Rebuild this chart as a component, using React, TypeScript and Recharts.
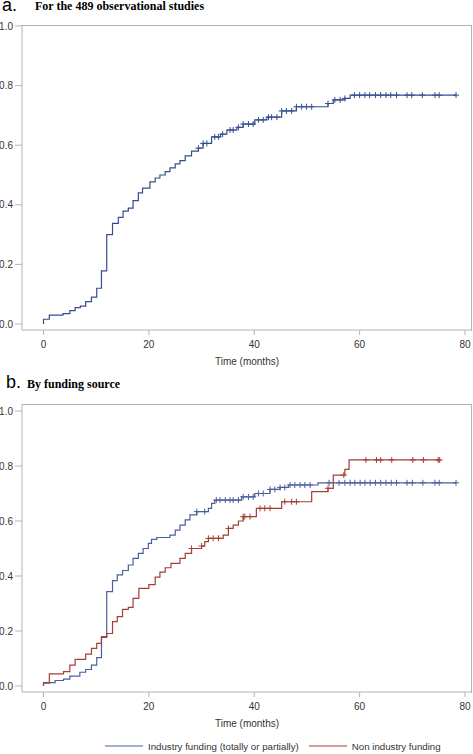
import React from "react";
import { ComposedChart, Line, Scatter, XAxis, YAxis } from "recharts";

// panel a: all 489 observational studies (step times in months, cumulative proportion)
const allTimes = [0, 1.1, 3.7, 5.0, 6.0, 7.0, 8.0, 9.1, 10.1, 11.0, 12.0, 13.1, 14.2, 15.1, 16.1, 17.0, 18.0, 18.8, 20.2, 21.2, 22.1, 23.1, 24.0, 25.0, 25.9, 26.9, 28.1, 29.4, 30.3, 31.9, 33.6, 34.8, 36.7, 37.9, 40.1, 42.4, 45.2, 48.0, 54.0, 55.0, 57.2, 58.2, 78.3];
const allValues = [0.016, 0.03, 0.035, 0.045, 0.055, 0.06, 0.075, 0.09, 0.12, 0.178, 0.3, 0.338, 0.358, 0.379, 0.389, 0.414, 0.44, 0.456, 0.477, 0.49, 0.5, 0.511, 0.524, 0.537, 0.548, 0.564, 0.58, 0.59, 0.606, 0.628, 0.637, 0.651, 0.66, 0.671, 0.685, 0.694, 0.715, 0.729, 0.74, 0.752, 0.757, 0.768, 0.768];
const allCensored = [29.4, 30.3, 31.0, 32.5, 33.2, 34.0, 35.4, 36.0, 37.0, 37.9, 38.9, 39.8, 40.8, 41.7, 42.7, 43.3, 44.3, 45.2, 46.1, 47.1, 48.0, 49.0, 49.9, 50.9, 54.0, 55.3, 56.3, 57.2, 59.0, 60.0, 61.0, 61.9, 63.0, 64.0, 65.0, 65.9, 67.0, 69.0, 69.9, 71.9, 74.3, 75.1, 78.3];

// panel b: industry funding (totally or partially)
const indTimes = [0, 2.2, 3.8, 5.0, 6.9, 8.0, 9.1, 10.1, 11.0, 12.0, 13.1, 14.0, 15.0, 16.1, 17.0, 18.0, 18.9, 19.9, 20.5, 21.5, 24.0, 25.0, 25.9, 26.9, 27.8, 29.1, 31.3, 31.9, 32.5, 37.6, 40.1, 43.0, 44.9, 46.5, 52.1, 78.3];
const indValues = [0.012, 0.02, 0.025, 0.036, 0.05, 0.06, 0.076, 0.103, 0.18, 0.343, 0.383, 0.404, 0.42, 0.44, 0.464, 0.482, 0.5, 0.519, 0.533, 0.54, 0.549, 0.567, 0.585, 0.604, 0.622, 0.634, 0.646, 0.664, 0.676, 0.688, 0.7, 0.715, 0.722, 0.731, 0.739, 0.739];
const indCensored = [29.1, 30.6, 32.8, 33.5, 34.5, 35.4, 36.0, 37.0, 37.9, 38.9, 39.8, 40.8, 41.7, 43.0, 43.9, 44.9, 45.8, 46.8, 47.7, 48.7, 49.6, 50.6, 54.2, 56.1, 57.2, 58.2, 59.1, 60.1, 61.0, 62.0, 63.0, 64.0, 65.0, 66.0, 67.0, 69.0, 70.0, 72.0, 74.3, 75.1, 78.3];

// panel b: non industry funding
const nonTimes = [0, 1.1, 3.8, 5.0, 6.0, 8.0, 9.1, 10.1, 11.0, 12.0, 13.1, 14.0, 15.0, 16.1, 17.0, 18.1, 20.0, 21.2, 22.1, 23.1, 24.2, 25.9, 26.9, 28.1, 30.0, 30.6, 31.3, 34.1, 35.1, 36.0, 37.0, 37.9, 40.4, 45.2, 50.9, 54.0, 55.0, 57.2, 58.0, 75.2];
const nonValues = [0.01, 0.044, 0.052, 0.076, 0.097, 0.116, 0.137, 0.155, 0.177, 0.191, 0.234, 0.252, 0.279, 0.286, 0.319, 0.355, 0.369, 0.396, 0.414, 0.43, 0.446, 0.464, 0.482, 0.5, 0.509, 0.525, 0.537, 0.549, 0.573, 0.585, 0.6, 0.616, 0.646, 0.67, 0.707, 0.719, 0.767, 0.788, 0.822, 0.822];
const nonCensored = [28.1, 30.0, 31.3, 32.2, 33.2, 35.1, 37.9, 38.2, 39.2, 41.1, 42.0, 43.0, 45.8, 47.1, 48.0, 54.0, 57.0, 61.2, 63.2, 64.0, 66.1, 70.1, 72.1, 74.9, 75.2];

const xTicks = [0, 20, 40, 60, 80];
const yTicks = [0, 0.2, 0.4, 0.6, 0.8, 1.0];

const AXIS = "#b4b4b4";
const TOP_BLUE = "#344e8e";
const BLUE = "#4a5f9d";
const RED = "#a33f35";

const steps = (times: number[], values: number[]) =>
  [{ t: 0, v: 0 }, ...times.map((t, i) => ({ t, v: values[i] }))];

const valueAt = (t: number, times: number[], values: number[]) => {
  let v = 0;
  times.forEach((s, i) => {
    if (s <= t) v = values[i];
  });
  return v;
};

const marks = (cens: number[], times: number[], values: number[]) =>
  cens.map((t) => ({ t, v: valueAt(t, times, values) }));

const plus = (color: string) => (props: any) => {
  const { cx, cy } = props;
  if (cx == null || cy == null) return <g />;
  return (
    <path
      d={`M${cx - 3},${cy}H${cx + 3}M${cx},${cy - 3}V${cy + 3}`}
      stroke={color}
      strokeWidth={1}
      fill="none"
    />
  );
};

type Series = { name: string; color: string; times: number[]; values: number[]; censored: number[] };

const panelA: Series[] = [
  { name: "All studies", color: TOP_BLUE, times: allTimes, values: allValues, censored: allCensored },
];
const panelB: Series[] = [
  { name: "Industry funding (totally or partially)", color: BLUE, times: indTimes, values: indValues, censored: indCensored },
  { name: "Non industry funding", color: RED, times: nonTimes, values: nonValues, censored: nonCensored },
];

function KMChart({ series, height, top, padTop }: { series: Series[]; height: number; top: number; padTop: number }) {
  const tick = { fontSize: 10, fill: "#333" };
  const plotH = height - top - 42;
  return (
    <div style={{ position: "relative", width: 473, height }}>
      <ComposedChart
        width={473}
        height={height}
        margin={{ top, right: 1, left: 0, bottom: 0 }}
        style={{ fontFamily: "'Liberation Sans', Arial, sans-serif" }}
      >
        <XAxis
          dataKey="t"
          type="number"
          domain={[0, 80]}
          ticks={xTicks}
          padding={{ left: 21.5, right: 7 }}
          height={42}
          tickSize={5}
          tickMargin={6}
          stroke={AXIS}
          tick={tick}
          label={{ value: "Time (months)", position: "insideBottom", offset: 7, fontSize: 10, fill: "#333" }}
        />
        <YAxis
          dataKey="v"
          type="number"
          domain={[0, 1]}
          ticks={yTicks}
          padding={{ top: padTop, bottom: 6 }}
          width={22}
          tickSize={7}
          tickMargin={2}
          stroke={AXIS}
          tick={tick}
          tickFormatter={(v: number) => v.toFixed(1)}
        />
        {series.map((s) => (
          <Line
            key={s.name}
            data={steps(s.times, s.values)}
            dataKey="v"
            type="stepAfter"
            stroke={s.color}
            strokeWidth={1.2}
            dot={false}
            isAnimationActive={false}
          />
        ))}
        {series.map((s) => (
          <Scatter
            key={s.name + "-c"}
            data={marks(s.censored, s.times, s.values)}
            dataKey="v"
            shape={plus(s.color)}
            isAnimationActive={false}
          />
        ))}
      </ComposedChart>
      {/* plot frame: top and right edges */}
      <div
        style={{
          position: "absolute",
          left: 22,
          top,
          width: 449,
          height: plotH,
          borderTop: `1px solid ${AXIS}`,
          borderRight: `1px solid ${AXIS}`,
          pointerEvents: "none",
        }}
      />
    </div>
  );
}

export default function App() {
  const sans = "'Liberation Sans', Arial, sans-serif";
  const serif = "'Liberation Serif', 'Times New Roman', serif";
  return (
    <div style={{ position: "absolute", left: 0, top: 0, width: 473, height: 754, background: "#fff", overflow: "hidden" }}>
      <div style={{ position: "absolute", left: 0, top: 0 }}>
        <KMChart series={panelA} height={372} top={25} padTop={1} />
      </div>
      <div style={{ position: "absolute", left: 2, top: 0, fontFamily: sans, fontSize: 18, lineHeight: "10px" }}>a.</div>
      <div style={{ position: "absolute", left: 35, top: 0, fontFamily: serif, fontSize: 12, fontWeight: "bold", lineHeight: "12px" }}>
        For the 489 observational studies
      </div>

      <div style={{ position: "absolute", left: 0, top: 370 }}>
        <KMChart series={panelB} height={364} top={34} padTop={7} />
      </div>
      <div style={{ position: "absolute", left: 6, top: 373, fontFamily: sans, fontSize: 18, lineHeight: "18px" }}>b.</div>
      <div style={{ position: "absolute", left: 27, top: 378, fontFamily: serif, fontSize: 12, fontWeight: "bold", lineHeight: "12px" }}>
        By funding source
      </div>

      <div style={{ position: "absolute", left: 105, top: 740, display: "flex", alignItems: "center", fontFamily: sans, fontSize: 9.7, color: "#333", whiteSpace: "nowrap" }}>
        {panelB.map((s, i) => (
          <div key={s.name} style={{ display: "flex", alignItems: "center", marginLeft: i ? 10 : 0 }}>
            <svg width={38} height={12}>
              <line x1={0} y1={6} x2={38} y2={6} stroke={s.color} strokeWidth={1.2} />
            </svg>
            <span style={{ marginLeft: 5 }}>{s.name}</span>
          </div>
        ))}
      </div>
    </div>
  );
}
